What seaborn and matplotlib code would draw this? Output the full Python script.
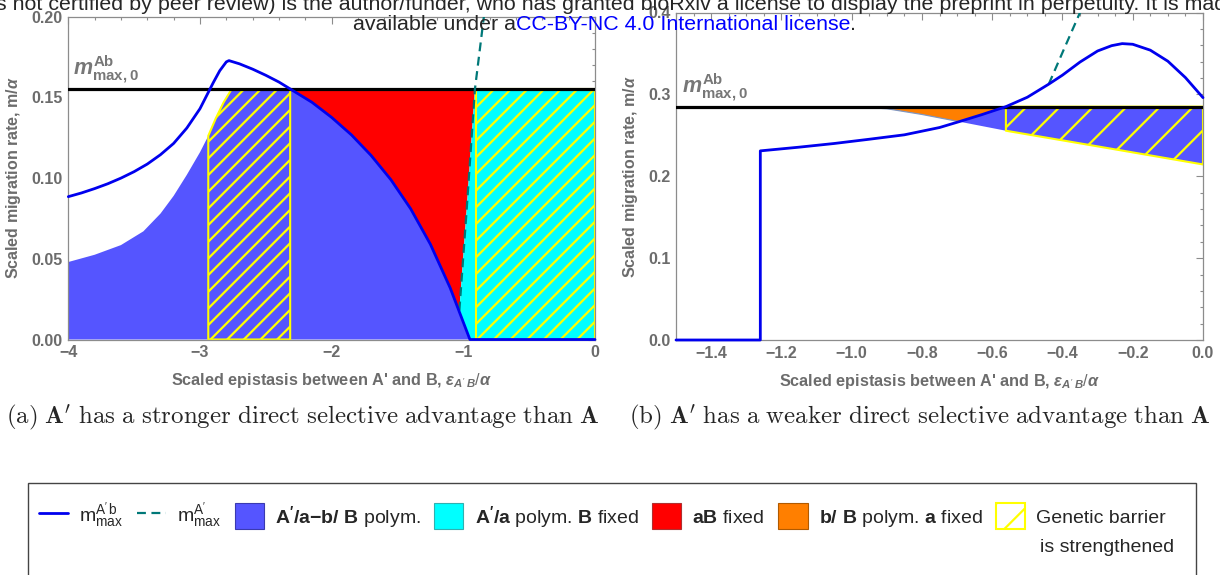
import numpy as np
import matplotlib
matplotlib.use("Agg")
import matplotlib.pyplot as plt
import seaborn as sns
from matplotlib.lines import Line2D
from matplotlib.patches import Patch, Rectangle
from matplotlib.ticker import MultipleLocator, FixedLocator

sns.set_style("white")
plt.rcParams["font.family"] = ["Liberation Sans", "DejaVu Sans"]
plt.rcParams["mathtext.fontset"] = "custom"
plt.rcParams["mathtext.rm"] = "Liberation Sans"
plt.rcParams["mathtext.bf"] = "Liberation Sans:bold"
plt.rcParams["mathtext.it"] = "Liberation Sans:bold:italic"
plt.rcParams["hatch.linewidth"] = 1.6
plt.rcParams["hatch.color"] = "#ffff00"

BLUE_LINE = "#0000ee"
TEAL = "#007878"
POLYM = "#5555ff"
CYAN = "#00ffff"
RED = "#ff0000"
ORANGE = "#ff7f00"
YELLOW = "#ffff00"
GREY = "#6c6c6c"
SPINE = "#8c8c8c"

# ---- panel (a): A' has a stronger direct advantage than A ----
a_m0 = 0.155                                  # m^Ab_max,0
a_mAb_x = [-4.0, -3.9, -3.8, -3.7, -3.6, -3.5, -3.4, -3.3, -3.2, -3.1, -3.0,
           -2.95, -2.9, -2.85, -2.8, -2.78, -2.7, -2.6, -2.5, -2.4, -2.31,
           -2.15, -2.0, -1.85, -1.7, -1.55, -1.4, -1.25, -1.1, -0.95, 0.0]
a_mAb_y = [0.0885, 0.0908, 0.0935, 0.0965, 0.1000, 0.1040, 0.1087, 0.1145,
           0.1215, 0.1310, 0.1430, 0.1510, 0.1590, 0.1665, 0.1720, 0.1728,
           0.1708, 0.1675, 0.1637, 0.1595, 0.155,
           0.147, 0.1376, 0.1268, 0.114, 0.099, 0.081, 0.059, 0.032, 0.0, 0.0]
a_mA_x = [-1.03, -0.975, -0.912, -0.847, -0.82]
a_mA_y = [0.018, 0.080, 0.155, 0.198, 0.215]
a_low_x = [-4.0, -3.8, -3.6, -3.43, -3.3, -3.2, -3.1, -3.0, -2.94, -2.88, -2.82, -2.76]
a_low_y = [0.048, 0.0525, 0.0585, 0.067, 0.078, 0.089, 0.102, 0.116, 0.1256,
           0.137, 0.147, 0.155]
a_cross = -2.31                               # m^A'b meets m0
a_zero = -0.95                                # m^A'b reaches 0
a_hatch = [(-2.937, -2.315), (-0.904, 0.0)]

# ---- panel (b): A' has a weaker direct advantage than A ----
b_m0 = 0.285
b_mAb_x = [-1.5, -1.26, -1.26, -1.15, -1.05, -0.95, -0.85, -0.75, -0.694, -0.63,
           -0.561, -0.5, -0.439, -0.4, -0.35, -0.3, -0.26, -0.23, -0.2, -0.15,
           -0.1, -0.05, 0.0]
b_mAb_y = [0.0, 0.0, 0.231, 0.2355, 0.240, 0.2452, 0.2506, 0.2595, 0.2667, 0.2752,
           0.285, 0.2965, 0.3125, 0.3235, 0.3395, 0.353, 0.3595, 0.362, 0.3612,
           0.354, 0.3405, 0.3205, 0.296]
b_mA_x = [-0.439, -0.395, -0.35, -0.33]
b_mA_y = [0.3125, 0.356, 0.40, 0.42]
b_low_x = [-1.0, -0.9, -0.8, -0.694, -0.561, -0.3, 0.0]
b_low_y = [0.285, 0.2825, 0.2755, 0.2667, 0.2556, 0.2365, 0.2144]
b_meet = -0.694                               # m^A'b meets lower boundary
b_cross = -0.561                              # m^A'b meets m0

legend_labels = [
    r"$\mathrm{m}^{\mathrm{A'\,b}}_{\mathrm{max}}$",
    r"$\mathrm{m}^{\mathrm{A'}}_{\mathrm{max}}$",
    r"$\mathbf{A'/a{-}b/\ B}$ polym.",
    r"$\mathbf{A'/a}$ polym. $\mathbf{B}$ fixed",
    r"$\mathbf{aB}$ fixed",
    r"$\mathbf{b/\ B}$ polym. $\mathbf{a}$ fixed",
    "Genetic barrier",
]


def style_axes(ax, xlim, ylim, xmajor, xminor, ymajor, yminor):
    ax.set_xlim(xlim)
    ax.set_ylim(ylim)
    ax.xaxis.set_major_locator(FixedLocator(xmajor))
    ax.xaxis.set_minor_locator(MultipleLocator(xminor))
    ax.yaxis.set_major_locator(FixedLocator(ymajor))
    ax.yaxis.set_minor_locator(MultipleLocator(yminor))
    ax.tick_params(which="both", direction="in", top=True, right=True,
                   color=SPINE, width=0.8, labelsize=11.5, labelcolor=GREY, pad=4)
    ax.tick_params(which="major", length=5)
    ax.tick_params(which="minor", length=2.5)
    for lab in ax.get_xticklabels() + ax.get_yticklabels():
        lab.set_fontweight("bold")
    for sp in ax.spines.values():
        sp.set_color(SPINE)
        sp.set_linewidth(0.9)
    ax.set_xlabel(r"Scaled epistasis between A' and B, $\varepsilon_{A'\,B}/\alpha$",
                  fontsize=11.7, fontweight="bold", color=GREY, labelpad=8)
    ax.set_ylabel(r"Scaled migration rate, m/$\alpha$",
                  fontsize=11.5, fontweight="bold", color=GREY, labelpad=6)


def draw_lines(ax, mx, my, dx, dy, m0):
    ax.axhline(m0, color="black", lw=2.3, zorder=3)
    sns.lineplot(x=dx, y=dy, ax=ax, color=TEAL, lw=1.6, linestyle=(0, (4, 2.5)),
                 sort=False, estimator=None, zorder=4)
    sns.lineplot(x=mx, y=my, ax=ax, color=BLUE_LINE, lw=2.0,
                 sort=False, estimator=None, zorder=5)
    ax.lines[-1].set_clip_on(False)


fig = plt.figure(figsize=(12.2, 5.75), dpi=100)
W, H = 1220, 575
ax_a = fig.add_axes([68.3 / W, 1 - 339.5 / H, (595 - 68.3) / W, (339.5 - 16.7) / H])
ax_b = fig.add_axes([676 / W, 1 - 340 / H, (1203 - 676) / W, (340 - 12.5) / H])

# ---------- panel (a) ----------
mx, my = np.array(a_mAb_x), np.array(a_mAb_y)
dx, dy = np.array(a_mA_x), np.array(a_mA_y)
lx, ly = np.array(a_low_x), np.array(a_low_y)

down = (mx >= a_cross) & (mx <= a_zero)
ax_a.fill(np.r_[-4.0, lx, mx[down]], np.r_[0.0, ly, my[down]],
          color=POLYM, lw=0, zorder=1)
red_part = (mx >= a_cross) & (mx < dx[0])
below = dy <= a_m0
ax_a.fill(np.r_[mx[red_part], dx[below]], np.r_[my[red_part], dy[below]],
          color=RED, lw=0, zorder=1)
ax_a.fill(np.r_[dx[below], 0.0, 0.0, a_zero], np.r_[dy[below], a_m0, 0.0, 0.0],
          color=CYAN, lw=0, zorder=1)

lo, hi = a_hatch[0]
inner = (lx > lo) & (lx < hi)
hx = np.r_[lo, lx[inner], hi]
hy = np.r_[np.interp(lo, lx, ly), ly[inner], a_m0]
ax_a.fill_between(hx, 0, hy, facecolor="none", edgecolor=YELLOW, hatch="//",
                  lw=1.5, zorder=2)
lo, hi = a_hatch[1]
ax_a.fill_between([lo, hi], 0, a_m0, facecolor="none", edgecolor=YELLOW,
                  hatch="//", lw=1.5, zorder=2)

draw_lines(ax_a, a_mAb_x, a_mAb_y, a_mA_x, a_mA_y, a_m0)
style_axes(ax_a, (-4, 0), (0, 0.2), [-4, -3, -2, -1, 0], 0.2,
           [0.0, 0.05, 0.10, 0.15, 0.20], 0.01)
ax_a.text(-3.965, 0.164, r"$m^{\mathbf{Ab}}_{\mathbf{max,0}}$", fontsize=15.5,
          color="#777777", va="baseline", zorder=6)

# ---------- panel (b) ----------
mx, my = np.array(b_mAb_x), np.array(b_mAb_y)
lx, ly = np.array(b_low_x), np.array(b_low_y)

up = (mx >= b_meet) & (mx <= b_cross)
left_low = lx <= b_meet
ax_b.fill(np.r_[mx[up], lx[left_low]], np.r_[my[up], ly[left_low]],
          color=ORANGE, lw=0, zorder=1)
ax_b.plot(lx[left_low], ly[left_low], color="#8096c0", lw=0.9, zorder=1.5)
right_low = lx >= b_meet
ax_b.fill(np.r_[mx[up], 0.0, lx[right_low][::-1]],
          np.r_[my[up], b_m0, ly[right_low][::-1]],
          color=POLYM, lw=0, zorder=1)
hatch_part = lx >= b_cross
ax_b.fill_between(lx[hatch_part], ly[hatch_part], b_m0, facecolor="none",
                  edgecolor=YELLOW, hatch="/", lw=1.5, zorder=2)

draw_lines(ax_b, b_mAb_x, b_mAb_y, b_mA_x, b_mA_y, b_m0)
style_axes(ax_b, (-1.5, 0), (0, 0.4), [-1.4, -1.2, -1.0, -0.8, -0.6, -0.4, -0.2, 0.0],
           0.05, [0.0, 0.1, 0.2, 0.3, 0.4], 0.02)
ax_b.text(-1.482, 0.302, r"$m^{\mathbf{Ab}}_{\mathbf{max,0}}$", fontsize=15.5,
          color="#777777", va="baseline", zorder=6)

# ---------- captions ----------
cap_a = r"$\mathrm{(a)}\ \mathbf{A'}\ \mathrm{has\ a\ stronger\ direct\ selective\ advantage\ than}\ \mathbf{A}$"
cap_b = r"$\mathrm{(b)}\ \mathbf{A'}\ \mathrm{has\ a\ weaker\ direct\ selective\ advantage\ than}\ \mathbf{A}$"
fig.text(303 / W, 1 - 418 / H, cap_a, fontsize=17.9, ha="center", va="center",
         math_fontfamily="cm")
fig.text(920 / W, 1 - 418 / H, cap_b, fontsize=17.9, ha="center", va="center",
         math_fontfamily="cm")

# ---------- legend ----------
handles = [
    Line2D([], [], color=BLUE_LINE, lw=2.0),
    Line2D([], [], color=TEAL, lw=1.6, linestyle=(0, (4, 2.5))),
    Patch(facecolor=POLYM, edgecolor="#3a3ab0", lw=0.8),
    Patch(facecolor=CYAN, edgecolor="#30b0b0", lw=0.8),
    Patch(facecolor=RED, edgecolor="#b03030", lw=0.8),
    Patch(facecolor=ORANGE, edgecolor="#b05a00", lw=0.8),
    Patch(facecolor="white", edgecolor=YELLOW, hatch="/", lw=1.5),
]
fig.add_artist(Rectangle((28 / W, -0.05), (1196 - 28) / W, 0.05 + 1 - 483 / H,
                         transform=fig.transFigure, facecolor="none",
                         edgecolor="#444444", lw=1.0))
leg = fig.legend(handles, legend_labels, loc="center left",
                 bbox_to_anchor=(29 / W, 1 - 516 / H), ncol=7, frameon=False,
                 fontsize=14, handlelength=1.5, handleheight=1.65,
                 handletextpad=0.57, columnspacing=0.7, borderpad=0)
fig.text(1040 / W, 1 - 547 / H, "is strengthened", fontsize=14,
         ha="left", va="center")

# ---------- bioRxiv banner ----------
fig.text(-4 / W, 1 - 10 / H,
         "s not certified by peer review) is the author/funder, who has granted bioRxiv "
         "a license to display the preprint in perpetuity. It is mad",
         fontsize=15.4, ha="left", va="baseline", zorder=10)
t1 = fig.text(353 / W, 1 - 30 / H, "available under a", fontsize=15.4,
              ha="left", va="baseline", zorder=10)
t2 = ax_b.annotate("CC-BY-NC 4.0 International license", xy=(1, 0), xycoords=t1,
                   va="bottom", ha="left", fontsize=15.4, color="#0000ff",
                   annotation_clip=False, clip_on=False, zorder=10)
ax_b.annotate(".", xy=(1, 0), xycoords=t2, va="bottom", ha="left", fontsize=15.4,
              annotation_clip=False, clip_on=False, zorder=10)

fig.savefig("out.png", dpi=100)
